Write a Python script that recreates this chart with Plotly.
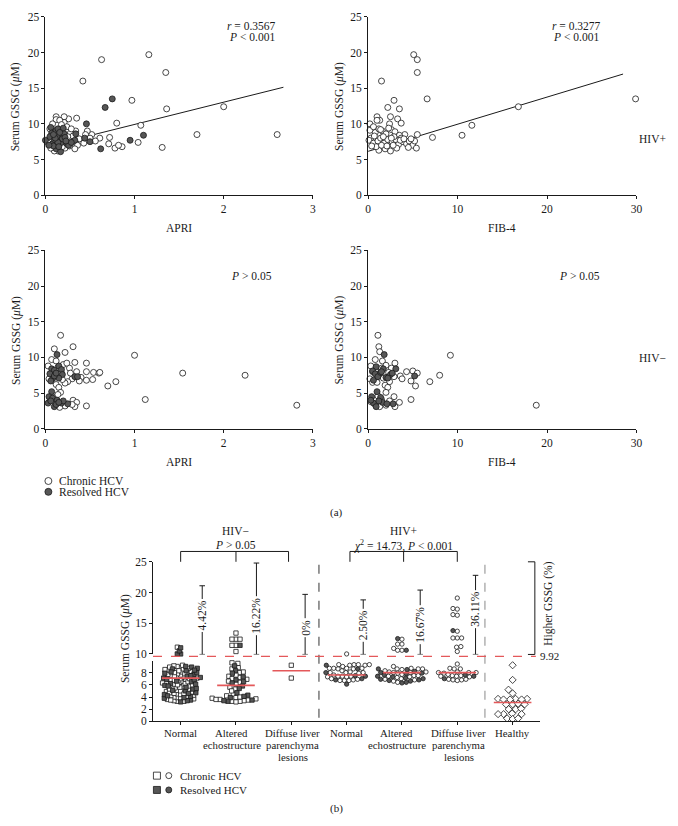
import plotly.graph_objects as go

W, H = 678, 826
def PX(x): return x / W
def PY(y): return 1 - y / H

FONT = "Liberation Serif"
INK = "#1a1a1a"
DARK = "#565656"
RED = "#e4585a"

# ---------------- Panel (a) data ----------------
# HIV+ : APRI vs serum GSSG
tl_chronic_x = [0.63,1.16,1.35,0.42,0.97,1.36,2.00,0.80,1.07,1.70,2.60,1.31,1.04,0.72,0.71,0.78,0.86,0.82,0.61,0.56,
                0.52,0.47,0.45,0.40,0.36,0.34,0.35,0.33,0.30,0.28,0.26,0.21,0.21,0.12,0.12,0.16,0.14,0.10,0.06,0.03,
                0.22,0.27,0.31,0.38,0.24,0.18,0.08,0.05,0.19,0.43,0.50,0.29,0.15,0.25]
tl_chronic_y = [19.0,19.7,17.2,16.0,13.3,12.1,12.4,10.1,9.8,8.5,8.5,6.7,7.4,8.1,7.2,6.6,6.8,7.0,8.0,7.6,
                8.5,9.0,8.5,7.6,7.0,9.0,10.8,6.5,7.4,8.7,10.7,11.0,10.2,11.0,10.6,10.5,6.2,6.2,6.6,7.3,
                6.6,6.9,8.3,7.9,9.6,9.9,10.0,9.3,6.8,7.3,8.0,9.3,7.0,8.2]
tl_resolved_x = [0.00,0.06,0.07,0.05,0.08,0.10,0.12,0.14,0.16,0.18,0.20,0.21,0.24,0.12,0.17,0.09,0.13,0.19,0.22,0.26,
                 0.34,0.33,0.29,0.14,0.11,0.04,0.16,0.09,0.23,0.15,0.75,0.67,0.46,0.95,1.10,0.62,0.50,0.44]
tl_resolved_y = [7.7,9.5,8.7,8.2,7.2,7.8,9.1,9.3,8.0,7.4,9.4,8.6,7.2,6.5,6.1,6.9,8.3,7.9,8.1,7.0,
                 8.6,7.7,7.4,7.4,8.0,7.0,8.8,8.5,7.6,6.8,13.5,12.3,10.0,7.7,8.4,6.5,7.5,8.0]
apri_fit = dict(intercept=6.8, slope=3.12, xmax=2.67)

# HIV+ : FIB-4 vs serum GSSG
tr_x = [5.1,5.5,5.5,1.5,6.6,29.9,16.8,2.9,2.2,3.5,2.5,3.3,3.7,1.0,1.3,0.2,2.4,11.6,10.5,7.2,
        5.5,4.1,0.5,0.8,1.6,2.0,2.6,3.0,3.5,0.3,0.1,0.6,1.1,1.4,1.8,2.2,2.7,3.1,3.4,3.9,
        4.3,4.6,5.0,5.2,5.4,4.5,3.2,2.5,1.2,0.9,1.9,0.4,2.8,1.5,0.7,1.2,2.3,1.7,2.9,3.7,
        4.8,0.2,1.0,2.1,2.6,3.6,4.0,0.6,1.4]
tr_y = [19.7,19.0,17.2,16.0,13.5,13.5,12.4,13.3,12.3,12.1,11.0,10.7,10.1,11.0,10.5,10.0,10.0,9.8,8.4,8.1,
        8.5,8.5,9.4,8.8,9.0,8.6,9.2,8.9,8.4,8.0,7.7,7.3,7.6,8.0,7.3,7.8,7.5,7.8,7.1,7.5,
        7.2,7.6,7.0,7.6,6.6,6.7,6.6,6.2,6.3,6.8,6.5,6.9,7.0,7.0,8.3,9.3,9.4,8.2,8.2,8.0,
        7.9,9.1,10.5,6.9,8.0,7.7,7.9,9.6,9.2]
fib_fit = dict(intercept=6.15, slope=0.38, xmax=28.5)

# HIV- : APRI vs serum GSSG
bl_chronic_x = [0.17,0.10,0.31,0.22,1.00,0.33,0.46,0.07,0.03,0.12,0.20,0.27,0.46,0.54,0.60,0.61,1.54,2.24,0.40,0.30,
                0.25,0.38,0.46,0.53,0.70,0.79,0.12,0.15,0.22,0.17,0.11,0.14,1.12,0.31,0.35,0.33,0.46,0.30,0.22,0.16,
                0.05,2.82,0.09,0.18,0.28,0.14,0.24,0.04,0.35,0.19]
bl_chronic_y = [13.1,11.2,11.5,10.7,10.3,9.3,9.2,9.7,8.8,9.5,9.0,8.5,8.0,7.9,7.8,7.9,7.8,7.5,7.2,7.0,
                6.6,6.7,6.8,6.9,6.0,6.6,6.2,5.8,6.4,5.1,4.4,4.8,4.1,4.0,3.7,3.1,3.2,3.4,3.2,3.0,
                3.9,3.3,8.0,7.8,7.8,8.6,9.2,7.0,8.0,6.9]
bl_resolved_x = [0.13,0.07,0.10,0.05,0.08,0.15,0.18,0.19,0.15,0.10,0.33,0.36,0.12,0.06,0.07,0.04,0.08,0.13,0.03,0.10,
                 0.18,0.25,0.20,0.06,0.12,0.15]
bl_resolved_y = [10.4,8.4,8.2,7.7,7.0,8.8,8.3,7.6,7.1,7.4,7.3,7.3,7.8,6.7,5.2,4.5,4.3,4.0,3.6,3.1,
                 3.6,3.5,3.9,3.9,3.4,3.7]

# HIV- : FIB-4 vs serum GSSG
br_chronic_x = [1.1,1.2,1.3,9.2,0.8,3.0,1.6,0.3,2.0,2.6,5.0,4.3,5.5,8.0,3.6,0.2,6.9,3.8,4.8,5.3,
                2.4,1.9,2.2,2.0,0.5,1.0,4.8,2.9,3.5,3.0,2.0,1.3,0.8,0.3,18.8,1.5,0.9,1.5,2.3,2.9,
                1.7,1.2,0.5,1.1,2.4]
br_chronic_y = [13.1,11.5,10.8,10.3,9.7,9.2,9.5,8.8,8.9,8.5,8.1,8.0,7.8,7.5,7.4,7.0,6.6,7.0,6.7,6.0,
                6.6,6.1,5.8,5.1,6.5,6.5,4.1,4.5,3.7,3.1,3.3,3.1,3.4,3.8,3.3,4.1,8.0,8.5,7.9,7.3,
                7.1,7.6,8.0,4.6,3.9]
br_resolved_x = [1.8,0.9,0.5,0.8,0.6,1.1,1.4,1.7,2.0,2.5,3.1,5.2,2.2,1.0,0.4,0.6,0.9,1.4,1.6,2.8,
                 2.1,0.3,1.2,1.5,2.7]
br_resolved_y = [10.4,8.7,8.1,7.7,6.8,7.3,7.9,8.4,7.2,7.6,8.4,7.4,7.1,5.2,4.5,3.6,3.1,4.4,3.7,3.5,
                 3.5,4.0,3.9,8.0,7.8]

# ---------------- Panel (b) data ----------------
BREAK = 9.92
categories = ["Normal", "Altered\nechostructure", "Diffuse liver\nparenchyma\nlesions",
              "Normal", "Altered\nechostructure", "Diffuse liver\nparenchyma\nlesions", "Healthy"]
label_shift = [0.0, -0.08, 0.03, 0.0, -0.09, 0.025, 0.0]
group_symbol = ["square", "square", "square", "circle", "circle", "circle", "diamond"]

neg_normal_chronic = [3.3,3.4,3.6,3.7,3.9,4.0,4.2,4.3,4.5,4.6,4.8,4.9,5.1,5.2,5.4,5.5,5.7,5.8,6.0,6.1,
                      6.3,6.4,6.6,6.7,6.9,7.0,7.2,7.3,7.5,7.6,7.8,7.9,8.1,8.2,8.4,8.5,8.7,8.8,9.0,9.1,
                      3.5,3.8,4.1,4.4,4.7,5.0,5.3,5.6,5.9,6.2,6.5,6.8,7.1,7.4,7.7,8.0,8.3,8.6,8.9,9.2,
                      3.3,4.5,6.0,7.0,7.8,8.5,11.1]
neg_normal_resolved = [3.2,3.5,3.8,4.1,4.4,4.7,5.0,5.3,5.6,5.9,6.2,6.5,6.8,7.1,7.4,7.7,8.0,8.3,8.6,8.9,
                       3.4,3.9,4.6,5.4,6.1,6.9,7.5,8.1,8.7,9.0,4.2,5.1,5.8,6.6,7.2,7.9,8.4,
                       10.0,10.0,10.5,11.0]
neg_altered_chronic = [9.5,9.6,8.8,8.6,8.1,8.0,7.4,7.2,7.0,6.6,6.4,6.1,5.6,5.3,4.4,4.2,3.9,3.8,3.7,3.6,
                       3.5,3.4,3.3,3.3,3.2,3.6,4.0,6.9,7.6,5.0,13.4,12.4,12.4,12.4,11.4,11.4,10.4]
neg_altered_resolved = [9.1,8.3,7.9,7.3,6.8,6.3,5.8,5.4,4.7,4.3,3.9,3.5,3.3,3.4,4.1,6.5,11.4]
neg_diffuse_chronic = [9.2,7.1]
neg_diffuse_resolved = []
pos_normal_chronic = [10.0,9.3,9.3,9.2,9.3,9.2,9.3,8.7,8.7,8.6,8.7,8.7,8.6,8.0,8.1,8.0,8.0,7.9,7.4,7.4,
                      7.3,7.4,7.3,6.7,6.7,6.8,6.7,7.6,8.3,9.0,7.0,6.9]
pos_normal_resolved = [9.2,8.6,8.0,7.5,7.4,7.0,6.8,6.1]
pos_altered_chronic = [12.4,11.6,11.6,10.6,10.6,10.9,9.0,8.6,8.6,8.7,8.6,8.5,8.1,8.0,8.1,8.0,7.9,7.5,7.4,7.5,
                       7.3,7.0,6.9,6.8,6.4,8.3,7.7,7.2,6.6]
pos_altered_resolved = [12.5,10.6,8.6,8.5,8.2,7.9,7.6,7.4,7.3,7.0,6.9,6.8,6.6,6.4,6.3,7.8,7.1,6.7,8.0]
pos_diffuse_chronic = [19.1,17.4,17.3,16.4,16.3,13.7,12.6,12.6,12.6,11.2,11.1,10.4,9.4,8.7,8.6,8.6,8.0,8.1,8.0,7.9,
                       8.0,7.5,7.4,7.4,7.3,7.5,6.9,6.8,6.8,6.9,6.7,7.7]
pos_diffuse_resolved = [13.8,7.4,7.0,7.6]
healthy = [9.2,6.8,5.2,4.6,3.7,3.6,3.7,3.6,3.7,3.6,2.8,2.9,2.8,2.8,2.0,2.0,2.1,1.2,1.2,1.3,1.2,0.5,0.4,0.5]

group_chronic = [neg_normal_chronic, neg_altered_chronic, neg_diffuse_chronic,
                 pos_normal_chronic, pos_altered_chronic, pos_diffuse_chronic, healthy]
group_resolved = [neg_normal_resolved, neg_altered_resolved, neg_diffuse_resolved,
                  pos_normal_resolved, pos_altered_resolved, pos_diffuse_resolved, []]
medians = [7.1, 5.9, 8.3, 7.6, 8.0, 8.0, 3.1]

whisker_x = [0.39, 1.37, 2.25, 3.30, 4.33, 5.33]
whisker_top = [21.1, 24.8, 19.7, 18.8, 20.4, 22.8]
whisker_label = ["4.42%", "16.22%", "0%", "2.50%", "16.67%", "36.11%"]
whisker_label_y = [16.3, 16.3, 14.3, 14.7, 14.8, 17.3]

# ---------------- helpers ----------------
swarm_gap = [3.4, 4.1, 4.3, 4.4, 4.4, 4.4, 5.6]   # px spacing of beeswarm
def ypix(v):
    return v * 6.2 + (6.0 if v > BREAK else 0.0)

def swarm(vals, d):
    order = sorted(range(len(vals)), key=lambda i: vals[i])
    placed, offs = [], [0.0] * len(vals)
    for i in order:
        yp = ypix(vals[i])
        near = [(xq, yq) for xq, yq in placed if abs(yq - yp) < d]
        cands = [0.0]
        for xq, yq in near:
            dx = (d * d - (yq - yp) ** 2) ** 0.5
            cands += [xq + dx, xq - dx]
        cands.sort(key=lambda c: (abs(c), c))
        chosen = 0.0
        for c in cands:
            if all((c - xq) ** 2 + (yq - yp) ** 2 >= d * d - 1e-6 for xq, yq in near):
                chosen = c
                break
        placed.append((chosen, yp))
        offs[i] = chosen / 56.0
    return offs

fig = go.Figure()

def open_marker(size, sym="circle"):
    return dict(symbol=sym, size=size, color="white", line=dict(color=INK, width=0.8))
def fill_marker(size, sym="circle"):
    return dict(symbol=sym, size=size, color=DARK, line=dict(color=INK, width=0.8))

# ---- panel (a) traces ----
for xa, ya, fit in [("x", "y", apri_fit), ("x2", "y2", fib_fit)]:
    fx = [0, fit["xmax"]]
    fy = [fit["intercept"] + fit["slope"] * v for v in fx]
    fig.add_trace(go.Scatter(x=fx, y=fy, mode="lines", line=dict(color=INK, width=1),
                             xaxis=xa, yaxis=ya, hoverinfo="skip"))

fig.add_trace(go.Scatter(x=tl_chronic_x, y=tl_chronic_y, mode="markers", marker=open_marker(6),
                         xaxis="x", yaxis="y", cliponaxis=False))
fig.add_trace(go.Scatter(x=tl_resolved_x, y=tl_resolved_y, mode="markers", marker=fill_marker(6),
                         xaxis="x", yaxis="y", cliponaxis=False))
fig.add_trace(go.Scatter(x=tr_x, y=tr_y, mode="markers", marker=open_marker(6),
                         xaxis="x2", yaxis="y2", cliponaxis=False))
fig.add_trace(go.Scatter(x=bl_chronic_x, y=bl_chronic_y, mode="markers", marker=open_marker(6),
                         xaxis="x3", yaxis="y3", cliponaxis=False))
fig.add_trace(go.Scatter(x=bl_resolved_x, y=bl_resolved_y, mode="markers", marker=fill_marker(6),
                         xaxis="x3", yaxis="y3", cliponaxis=False))
fig.add_trace(go.Scatter(x=br_chronic_x, y=br_chronic_y, mode="markers", marker=open_marker(6),
                         xaxis="x4", yaxis="y4", cliponaxis=False))
fig.add_trace(go.Scatter(x=br_resolved_x, y=br_resolved_y, mode="markers", marker=fill_marker(6),
                         xaxis="x4", yaxis="y4", cliponaxis=False))

# ---- panel (b) traces (beeswarm) ----
buckets = {}
for g in range(len(categories)):
    vals = list(group_chronic[g]) + list(group_resolved[g])
    flags = [False] * len(group_chronic[g]) + [True] * len(group_resolved[g])
    offs = swarm(vals, swarm_gap[g])
    for v, f, o in zip(vals, flags, offs):
        key = (group_symbol[g], f, v > BREAK)
        buckets.setdefault(key, ([], []))
        buckets[key][0].append(g + o)
        buckets[key][1].append(v)
for (sym, filled, upper), (xs, ys) in buckets.items():
    size = 5.5 if sym == "diamond" else 4.3
    mk = fill_marker(size, sym) if filled else open_marker(size, sym)
    fig.add_trace(go.Scatter(x=xs, y=ys, mode="markers", marker=mk, xaxis="x5",
                             yaxis="y6" if upper else "y5", cliponaxis=False))

# ---- legend swatches (pixel overlay axis) ----
leg_a = [(46, 482, False), (46, 493, True)]
for x0, y0, filled in leg_a:
    fig.add_trace(go.Scatter(x=[x0], y=[y0], mode="markers",
                             marker=fill_marker(7) if filled else open_marker(7),
                             xaxis="x6", yaxis="y7"))
for yy, filled in [(781, False), (795.5, True)]:
    fig.add_trace(go.Scatter(x=[156], y=[yy], mode="markers",
                             marker=fill_marker(7, "square") if filled else open_marker(7, "square"),
                             xaxis="x6", yaxis="y7"))
    fig.add_trace(go.Scatter(x=[168], y=[yy], mode="markers",
                             marker=fill_marker(6) if filled else open_marker(6),
                             xaxis="x6", yaxis="y7"))

# ---------------- axes ----------------
def ax(**kw):
    base = dict(showline=True, linecolor=INK, linewidth=1, ticks="outside", ticklen=3, tickwidth=1,
                tickcolor=INK, showgrid=False, zeroline=False, fixedrange=True,
                tickfont=dict(family=FONT, size=11.5, color=INK))
    base.update(kw)
    return base

xd_l = [PX(43), PX(314)]
xd_r = [PX(370), PX(642)]
yd_t = [PY(192), PY(11)]
yd_b = [PY(429), PY(248)]
yticks = [0, 5, 10, 15, 20, 25]

layout = dict(
    width=W, height=H, margin=dict(l=0, r=0, t=0, b=0),
    paper_bgcolor="white", plot_bgcolor="rgba(0,0,0,0)", showlegend=False,
    xaxis=ax(domain=xd_l, range=[0, 3], tickvals=[0, 1, 2, 3], anchor="y"),
    yaxis=ax(domain=yd_t, range=[0, 25], tickvals=yticks, anchor="x"),
    xaxis2=ax(domain=xd_r, range=[0, 30], tickvals=[0, 10, 20, 30], anchor="y2"),
    yaxis2=ax(domain=yd_t, range=[0, 25], tickvals=yticks, anchor="x2"),
    xaxis3=ax(domain=xd_l, range=[0, 3], tickvals=[0, 1, 2, 3], anchor="y3"),
    yaxis3=ax(domain=yd_b, range=[0, 25], tickvals=yticks, anchor="x3"),
    xaxis4=ax(domain=xd_r, range=[0, 30], tickvals=[0, 10, 20, 30], anchor="y4"),
    yaxis4=ax(domain=yd_b, range=[0, 25], tickvals=yticks, anchor="x4"),
    xaxis5=ax(domain=[PX(152), PX(544.5)], range=[-0.5, 6.5], tickvals=list(range(7)),
              showticklabels=False, anchor="y5"),
    yaxis5=ax(domain=[PY(726), PY(664.5)], range=[0, BREAK], tickvals=[0, 2, 4, 6, 8], anchor="x5"),
    yaxis6=ax(domain=[PY(658), PY(564)], range=[BREAK, 25], tickvals=[10, 15, 20, 25], anchor="x5"),
    xaxis6=dict(domain=[0, 1], range=[0, W], visible=False, fixedrange=True, anchor="y7"),
    yaxis7=dict(domain=[0, 1], range=[H, 0], visible=False, fixedrange=True, anchor="x6"),
)
fig.update_layout(**layout)

# ---------------- annotations ----------------
ann = []
def text(x, y, s, size=11.5, xanchor="center", angle=0, yanchor="middle"):
    ann.append(dict(x=PX(x), y=PY(y), xref="paper", yref="paper", text=s, showarrow=False,
                    xanchor=xanchor, yanchor=yanchor, textangle=angle,
                    font=dict(family=FONT, size=size, color=INK)))

ylab = "Serum GSSG (<i>μ</i>M)"
text(13, 102, ylab, angle=-90)
text(341, 102, ylab, angle=-90)
text(13, 339, ylab, angle=-90)
text(341, 339, ylab, angle=-90)
text(178.5, 225, "APRI"); text(506, 225, "FIB-4")
text(178.5, 463, "APRI"); text(506, 463, "FIB-4")
text(252, 20.5, "<i>r</i> = 0.3567"); text(252, 31.5, "<i>P</i> &lt; 0.001")
text(581, 20.5, "<i>r</i> = 0.3277"); text(581, 31.5, "<i>P</i> &lt; 0.001")
text(252, 274, "<i>P</i> &gt; 0.05"); text(584, 274, "<i>P</i> &gt; 0.05")
text(658, 135, "HIV+"); text(658, 357, "HIV−")
text(55, 482, "Chronic HCV", xanchor="left"); text(55, 493.5, "Resolved HCV", xanchor="left")
text(338, 514, "(a)", size=11)

# panel b
text(124, 642, ylab, angle=-90, size=11.5)
line_h = 12.1
for i, cat in enumerate(categories):
    for k, part in enumerate(cat.split("\n")):
        ann.append(dict(x=i + label_shift[i], y=PY(737.5 + k * line_h), xref="x5", yref="paper",
                        text=part, showarrow=False, xanchor="center", yanchor="middle",
                        font=dict(family=FONT, size=10.8, color=INK)))
for wx, wl, wy in zip(whisker_x, whisker_label, whisker_label_y):
    ann.append(dict(x=wx, y=wy, xref="x5", yref="y6", text=wl, showarrow=False, textangle=-90,
                    xanchor="center", yanchor="middle", bgcolor="white", borderpad=1,
                    font=dict(family=FONT, size=11.5, color=INK)))
ann.append(dict(x=1, y=PY(547), xref="x5", yref="paper", text="<i>P</i> &gt; 0.05", showarrow=False,
                font=dict(family=FONT, size=11.5, color=INK)))
ann.append(dict(x=1, y=PY(532.5), xref="x5", yref="paper", text="HIV−", showarrow=False,
                font=dict(family=FONT, size=11.5, color=INK)))
ann.append(dict(x=4.03, y=PY(547), xref="x5", yref="paper",
                text="<i>χ</i><sup>2</sup> = 14.73, <i>P</i> &lt; 0.001", showarrow=False,
                font=dict(family=FONT, size=11.5, color=INK)))
ann.append(dict(x=4.03, y=PY(532.5), xref="x5", yref="paper", text="HIV+", showarrow=False,
                font=dict(family=FONT, size=11.5, color=INK)))
text(553, 607, "Higher GSSG (%)", angle=-90)
text(542.5, 660, "9.92", xanchor="left", size=11)
text(177.5, 781, "Chronic HCV", xanchor="left", size=11)
text(177.5, 795.5, "Resolved HCV", xanchor="left", size=11)
text(338, 814, "(b)", size=11)
fig.update_layout(annotations=ann)

# ---------------- shapes ----------------
shapes = []
def seg(x0, y0, x1, y1, xref="paper", yref="paper", color=INK, width=1, dash="solid"):
    shapes.append(dict(type="line", x0=x0, y0=y0, x1=x1, y1=y1, xref=xref, yref=yref,
                       line=dict(color=color, width=width, dash=dash)))

# separators between groups
seg(2.5, PY(567), 2.5, PY(726), xref="x5", color="#333333", dash="dash")
seg(5.5, PY(567), 5.5, PY(726), xref="x5", color="#8a8a8a", dash="dash")
# threshold line 9.92
seg(PX(152), PY(660), PX(540), PY(660), color=RED, width=1.2, dash="dash")
# medians
for i, m in enumerate(medians):
    seg(i - 0.34, m, i + 0.34, m, xref="x5", yref="y5", color=RED, width=1.6)
# whiskers
cap = 0.05
for wx, wt in zip(whisker_x, whisker_top):
    seg(wx, BREAK, wx, wt, xref="x5", yref="y6")
    seg(wx - cap, wt, wx + cap, wt, xref="x5", yref="y6")
    seg(wx - cap, BREAK, wx + cap, BREAK, xref="x5", yref="y6")
# group brackets
for bx in ([0, 1, 1.95], [3.06, 4.03, 5.0]):
    seg(bx[0], PY(553.5), bx[-1], PY(553.5), xref="x5")
    for b in bx:
        seg(b, PY(553.5), b, PY(564), xref="x5")
# higher-GSSG bracket
seg(PX(539), PY(564), PX(539), PY(658))
seg(PX(532), PY(564), PX(539), PY(564))
seg(PX(532), PY(658), PX(539), PY(658))
fig.update_layout(shapes=shapes)

fig.write_html("out.html", config={"displayModeBar": False},
               post_script="document.body.style.margin='0px';document.body.style.overflow='hidden';")
